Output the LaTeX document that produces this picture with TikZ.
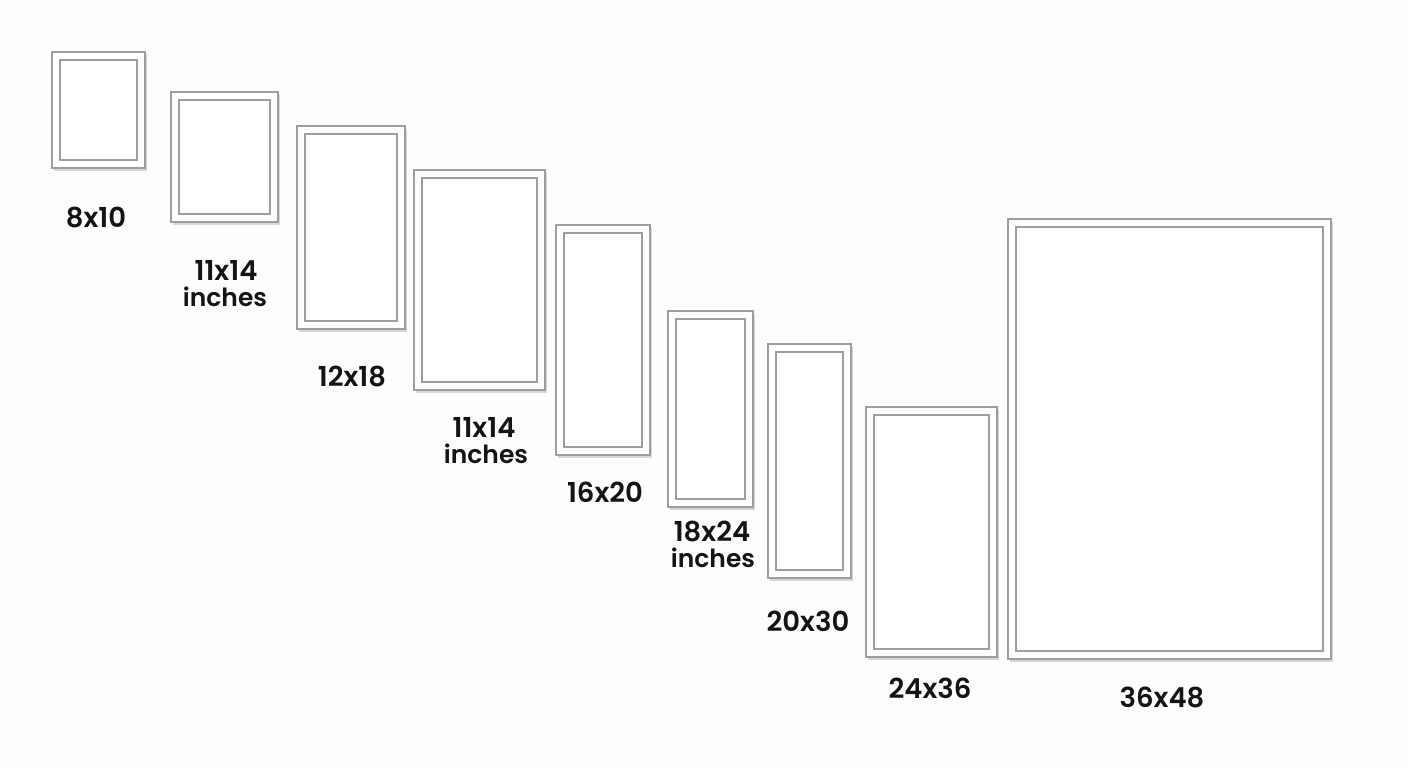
\documentclass[tikz,border=0pt]{standalone}
\usepackage{fontspec}
\setmainfont{Poppins SemiBold}
\usetikzlibrary{shadows}
\tikzset{
  outerframe/.style={draw=black!38, line width=2.4pt, fill=white,
    drop shadow={shadow xshift=2pt, shadow yshift=-2.5pt, opacity=0.25, fill=black!60}},
  innerframe/.style={draw=black!38, line width=2pt},
  lab/.style={font=\fontsize{27.5}{28}\selectfont, text=black!92, inner sep=0pt},
  sub/.style={font=\fontsize{25}{26}\selectfont, text=black!92, inner sep=0pt},
}
\newcommand{\frm}[4]{%
  \path[outerframe] (#1,#2) rectangle (#3,#4);
  \draw[innerframe] ({#1+8},{#2+8}) rectangle ({#3-8},{#4-8});
}
\begin{document}
\begin{tikzpicture}[x=1pt,y=-1pt]
\fill[white!99.2!black] (0,0) rectangle (1408,768);
\useasboundingbox (0,0) rectangle (1408,768);
\frm{52}{52}{145}{168}
\frm{171}{92}{278}{222}
\frm{297}{126}{405}{329}
\frm{414}{170}{545}{390}
\frm{556}{225}{650}{455}
\frm{668}{311}{753}{507}
\frm{768}{344}{851}{578}
\frm{866}{407}{997}{657}
\frm{1008}{219}{1331}{659}
\node[lab] (l1) at (96,218) {8x10};
\node[lab] (l2) at (226,270) {11x14};
\node[sub] (l2b) at (225,297) {inches};
\node[lab] (l3) at (352,376) {12x18};
\node[lab] (l4) at (484,427) {11x14};
\node[sub] (l4b) at (486,454) {inches};
\node[lab] (l5) at (605,492) {16x20};
\node[lab] (l6) at (712,531) {18x24};
\node[sub] (l6b) at (713,558) {inches};
\node[lab] (l7) at (808,621) {20x30};
\node[lab] (l8) at (930,688) {24x36};
\node[lab] (l9) at (1162,697) {36x48};
\end{tikzpicture}
\end{document}
